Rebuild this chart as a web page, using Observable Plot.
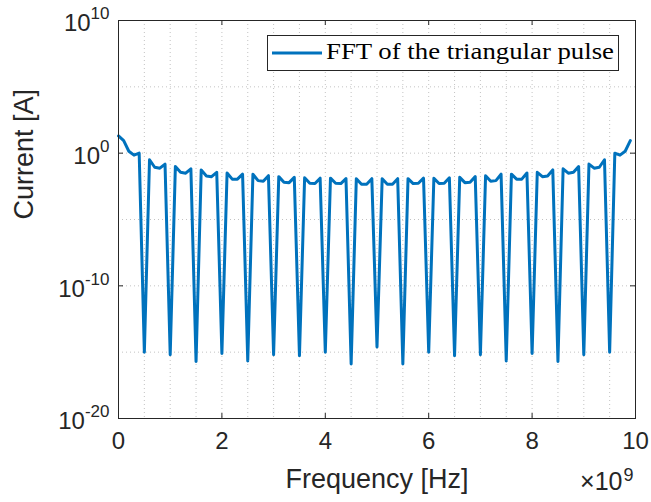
<!DOCTYPE html>
<html>
<head>
<meta charset="utf-8">
<script src="https://cdn.jsdelivr.net/npm/d3@7"></script>
<script src="https://cdn.jsdelivr.net/npm/@observablehq/plot@0.6"></script>
<style>
  body { margin: 0; background: #fff; }
  #wrap { position: relative; width: 651px; height: 502px; overflow: hidden; }
  #legend { position: absolute; left: 267px; top: 35px; width: 350px; height: 34px;
            border: 1px solid #262626; background: #fff; }
</style>
</head>
<body>
<div id="wrap"></div>
<script>
// Frequency samples in units of 1e9 Hz
const frequency = [
  0.0, 0.1, 0.2, 0.3, 0.4, 0.5, 0.6, 0.7, 0.8, 0.9,
  1.0, 1.1, 1.2, 1.3, 1.4, 1.5, 1.6, 1.7, 1.8, 1.9,
  2.0, 2.1, 2.2, 2.3, 2.4, 2.5, 2.6, 2.7, 2.8, 2.9,
  3.0, 3.1, 3.2, 3.3, 3.4, 3.5, 3.6, 3.7, 3.8, 3.9,
  4.0, 4.1, 4.2, 4.3, 4.4, 4.5, 4.6, 4.7, 4.8, 4.9,
  5.0, 5.1, 5.2, 5.3, 5.4, 5.5, 5.6, 5.7, 5.8, 5.9,
  6.0, 6.1, 6.2, 6.3, 6.4, 6.5, 6.6, 6.7, 6.8, 6.9,
  7.0, 7.1, 7.2, 7.3, 7.4, 7.5, 7.6, 7.7, 7.8, 7.9,
  8.0, 8.1, 8.2, 8.3, 8.4, 8.5, 8.6, 8.7, 8.8, 8.9,
  9.0, 9.1, 9.2, 9.3, 9.4, 9.5, 9.6, 9.7, 9.8, 9.9
];
// |FFT| of the triangular pulse, current in A
const current = [
  20, 8.9, 1.4, 0.71, 1.0, 1.0e-15, 0.32, 0.087, 0.074, 0.15,
  6.3e-16, 0.098, 0.036, 0.031, 0.066, 2.0e-16, 0.055, 0.019, 0.017, 0.036,
  7.9e-16, 0.032, 0.011, 0.011, 0.026, 2.2e-16, 0.026, 0.0085, 0.0076, 0.020,
  6.3e-16, 0.017, 0.0065, 0.0060, 0.015, 5.4e-16, 0.014, 0.0054, 0.0051, 0.013,
  1.0e-15, 0.013, 0.0054, 0.0051, 0.012, 1.3e-16, 0.012, 0.0046, 0.0046, 0.012,
  2.5e-15, 0.012, 0.0046, 0.0046, 0.012, 1.3e-16, 0.012, 0.0051, 0.0054, 0.013,
  1.0e-15, 0.013, 0.0051, 0.0054, 0.014, 5.4e-16, 0.015, 0.0060, 0.0065, 0.017,
  6.3e-16, 0.020, 0.0076, 0.0085, 0.026, 2.2e-16, 0.026, 0.011, 0.011, 0.032,
  7.9e-16, 0.036, 0.017, 0.019, 0.055, 2.0e-16, 0.066, 0.031, 0.036, 0.098,
  6.3e-16, 0.15, 0.074, 0.087, 0.32, 1.0e-15, 1.0, 0.71, 1.4, 8.9
];
const xTickValues = [0, 2, 4, 6, 8, 10];            // ×1e9 Hz
const xGridValues = [0.5, 1, 1.5, 2, 2.5, 3, 3.5, 4, 4.5, 5, 5.5, 6, 6.5, 7, 7.5, 8, 8.5, 9, 9.5];
const yTickExponents = [-20, -10, 0, 10];
const yGridExponents = [-15, -10, -5, 0, 5];
const xLabel = "Frequency [Hz]";
const yLabel = "Current [A]";
const xExponent = "9";
const seriesName = "FFT of the triangular pulse";

const data = frequency.map((f, i) => ({f: f * 1e9, c: current[i]}));
const yTicks = yTickExponents.map(e => Math.pow(10, e));
const yGrid = yGridExponents.map(e => Math.pow(10, e));
const xTicks = xTickValues.map(v => v * 1e9);
const xGrid = xGridValues.map(v => v * 1e9);

const W = 651, H = 502, mL = 118, mR = 16, mT = 20, mB = 84;
const frameW = W - mL - mR, frameH = H - mT - mB;
const ink = "#262626";
const blue = "#0072BD";
const sans = "'Liberation Sans', Arial, Helvetica, sans-serif";

const chart = Plot.plot({
  width: W, height: H,
  marginLeft: mL, marginRight: mR, marginTop: mT, marginBottom: mB,
  style: {fontFamily: sans, fontSize: "24px", color: ink, background: "#fff", overflow: "visible"},
  x: {domain: [0, 10e9], label: null},
  y: {type: "log", domain: [1e-20, 1e10], label: null},
  marks: [
    Plot.gridX(xGrid, {stroke: ink, strokeOpacity: 0.28, strokeDasharray: "1,3"}),
    Plot.gridY(yGrid, {stroke: ink, strokeOpacity: 0.28, strokeDasharray: "1,3"}),
    Plot.line(data, {x: "f", y: "c", stroke: blue, strokeWidth: 3, strokeLinejoin: "round"}),
    Plot.frame({stroke: ink, strokeWidth: 1}),
    Plot.tickX(xTicks, {x: d => d, insetTop: frameH - 5, stroke: ink}),
    Plot.tickX(xTicks, {x: d => d, insetBottom: frameH - 5, stroke: ink}),
    Plot.tickY(yTicks, {y: d => d, insetRight: frameW - 5, stroke: ink}),
    Plot.tickY(yTicks, {y: d => d, insetLeft: frameW - 5, stroke: ink}),
    Plot.axisX(xTicks, {tickSize: 0, tickPadding: 13, fontSize: 24, tickFormat: d => String(Math.round(d / 1e9))}),
    Plot.axisY(yTicks, {tickSize: 0, tickPadding: 9, fontSize: 24, tickFormat: d => "10^" + Math.round(Math.log10(d))}),
    Plot.text([xLabel], {text: d => d, frameAnchor: "bottom", dy: 69, fontSize: 27, fill: ink}),
    Plot.text([yLabel], {text: d => d, frameAnchor: "left", dx: -94, rotate: -90, fontSize: 27, fill: ink}),
    Plot.text(["×10"], {text: d => d, frameAnchor: "bottom-right", textAnchor: "end", dx: -13, dy: 71, fontSize: 25, fill: ink}),
    Plot.text([xExponent], {text: d => d, frameAnchor: "bottom-right", textAnchor: "end", dx: -2, dy: 62, fontSize: 18, fill: ink})
  ]
});

// superscript exponents on the y tick labels
d3.select(chart).selectAll('g[aria-label="y-axis tick label"] text').each(function () {
  const t = d3.select(this);
  const s = t.text();
  const exp = s.split("^")[1];
  t.text(null);
  t.append("tspan").attr("dy", "3px").text("10");
  t.append("tspan").attr("dy", "-12px").attr("font-size", "17px").text(exp);
});

const wrap = document.getElementById("wrap");
wrap.appendChild(chart);

// legend box
const legend = document.createElement("div");
legend.id = "legend";
legend.innerHTML =
  `<svg width="350" height="34" xmlns="http://www.w3.org/2000/svg">
     <line x1="4" x2="54" y1="17" y2="17" stroke="${blue}" stroke-width="3"></line>
     <text x="58" y="23" font-family="'Liberation Serif','Times New Roman',serif" font-size="23" fill="#000"
           textLength="288" lengthAdjust="spacingAndGlyphs">${seriesName}</text>
   </svg>`;
wrap.appendChild(legend);
</script>
</body>
</html>
